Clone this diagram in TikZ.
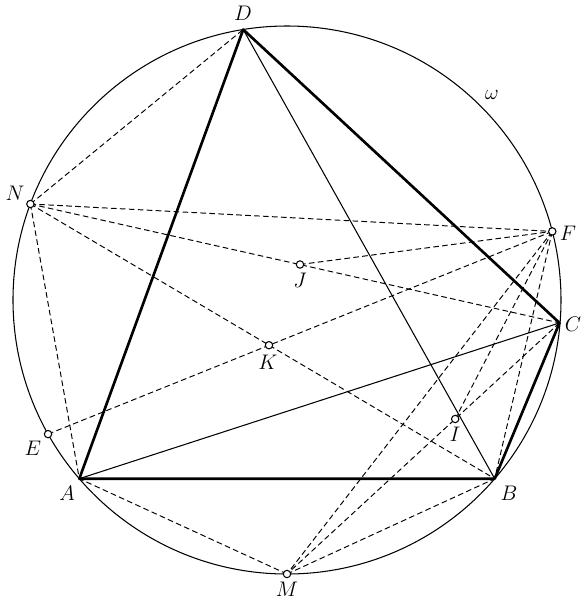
\documentclass[tikz,border=0pt]{standalone}
\usetikzlibrary{calc}
\begin{document}
\begin{tikzpicture}[x=0.02cm,y=-0.02cm,
  thinline/.style={line width=0.6pt},
  thickline/.style={line width=1.5pt, line join=round},
  dashline/.style={line width=0.55pt, dash pattern=on 3.2pt off 1.9pt},
  pt/.style={circle, draw, fill=white, line width=0.6pt, inner sep=0pt, minimum size=4.2pt},
  lab/.style={font=\fontsize{12.5}{14}\selectfont, inner sep=0pt}]
\useasboundingbox (0,0) rectangle (582,600);
% points
\coordinate (O) at (287,300);
\coordinate (A) at (79.3,478.7);
\coordinate (B) at (494.7,478.7);
\coordinate (C) at (559.5,322.9);
\coordinate (D) at (243.2,29.5);
\coordinate (M) at (287,574);
\coordinate (F) at (552.3,231.4);
\coordinate (N) at (30.4,204);
\coordinate (E) at (48.05,434.1);
\coordinate (J) at (300,264.5);
\coordinate (K) at (269,345.2);
\coordinate (I) at (455.2,419);
% circle omega
\draw[thinline] (O) circle [radius=274];
% dashed lines
\draw[dashline] (N) -- (D);
\draw[dashline] (N) -- (F);
\draw[dashline] (N) -- (C);
\draw[dashline] (N) -- (B);
\draw[dashline] (N) -- (A);
\draw[dashline] (E) -- (F);
\draw[dashline] (J) -- (F);
\draw[dashline] (F) -- (M);
\draw[dashline] (F) -- (I);
\draw[dashline] (F) -- (B);
\draw[dashline] (C) -- (M);
\draw[dashline] (M) -- (A);
\draw[dashline] (M) -- (B);
% thin solid
\draw[thinline] (A) -- (C);
\draw[thinline] (D) -- (B);
% thick quadrilateral
\draw[thickline] (A) -- (B) -- (C) -- (D) -- cycle;
% markers
\foreach \p in {N,F,J,K,E,M,I} \node[pt] at (\p) {};
% labels
\node[lab] (lD) at (243,13) {$D$};
\node[lab] (lN) at (15,193) {$N$};
\node[lab] (lF) at (568,233) {$F$};
\node[lab] (lJ) at (300,280) {$J$};
\node[lab] (lK) at (268,362) {$K$};
\node[lab] (lE) at (33,448) {$E$};
\node[lab] (lA) at (67,493) {$A$};
\node[lab] (lM) at (287,589) {$M$};
\node[lab] (lC) at (573,324) {$C$};
\node[lab] (lI) at (455,434) {$I$};
\node[lab] (lB) at (509,493) {$B$};
\node[lab] (lw) at (492,95) {$\omega$};
\end{tikzpicture}
\end{document}
